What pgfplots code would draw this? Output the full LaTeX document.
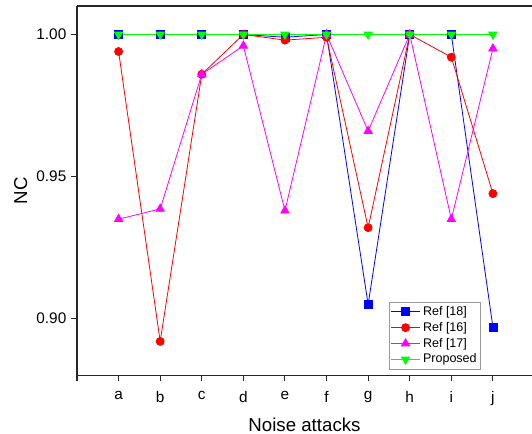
\documentclass[border=0pt]{standalone}
\usepackage{fontspec}
\setmainfont{Liberation Sans}
\usepackage{pgfplots}
\pgfplotsset{compat=1.18}
\definecolor{refblue}{RGB}{0,0,255}
\definecolor{refred}{RGB}{255,0,0}
\definecolor{refmag}{RGB}{255,0,255}
\definecolor{refgreen}{RGB}{0,255,0}

\begin{document}
\begin{tikzpicture}
\begin{axis}[
    scale only axis,
    width=341.25pt, height=277.1pt,
    xmin=-1, xmax=9.94,
    ymin=0.88, ymax=1.01,
    axis x line=box, axis y line=left,
    axis line style={-, line width=0.9pt, black!85},
    xtick pos=bottom, ytick pos=left,
    tick align=outside,
    major tick length=4.5pt,
    tick style={line width=0.8pt, black!85},
    xtick={-1,0,1,2,3,4,5,6,7,8,9},
    xticklabels={,a,b,c,d,e,f,g,h,i,j},
    xticklabel style={yshift=-4pt},
    ytick={0.90,0.95,1.00},
    yticklabel style={/pgf/number format/.cd, fixed, fixed zerofill, precision=2},
    /pgf/number format/assume math mode=true,
    ticklabel style={font=\fontsize{11.5}{13}\selectfont},
    xlabel={Noise attacks},
    ylabel={NC},
    xlabel style={yshift=-2.5pt},
    label style={font=\fontsize{14}{16}\selectfont},
    clip=false,
    legend style={at={(0.686,0.199)}, anchor=north west, draw=black!40,
        font=\fontsize{9.4}{11}\selectfont, row sep=-0.4pt,
        inner xsep=1pt, inner ysep=1pt},
    legend cell align=left,
    legend image code/.code={
        \draw[#1, mark repeat=2, mark phase=2] plot coordinates {(0cm,0cm) (0.38cm,0cm) (0.76cm,0cm)};
    },
    every axis plot/.append style={line width=0.6pt},
]
\addplot[refblue, mark=square*, mark size=3pt] coordinates {
    (0,1.000) (1,1.000) (2,1.000) (3,1.000) (4,0.999)
    (5,1.000) (6,0.905) (7,1.000) (8,1.000) (9,0.897)
};
\addlegendentry{Ref [18]}
\addplot[refred, mark=*, mark size=3pt] coordinates {
    (0,0.994) (1,0.892) (2,0.986) (3,1.000) (4,0.998)
    (5,0.999) (6,0.932) (7,1.000) (8,0.992) (9,0.944)
};
\addlegendentry{Ref [16]}
\addplot[refmag, mark=triangle*, mark size=3.6pt] coordinates {
    (0,0.935) (1,0.9386) (2,0.986) (3,0.996) (4,0.938)
    (5,1.000) (6,0.966) (7,1.000) (8,0.935) (9,0.995)
};
\addlegendentry{Ref [17]}
\addplot[refgreen, mark=triangle*, mark size=3.6pt, mark options={rotate=180}] coordinates {
    (0,1.000) (1,1.000) (2,1.000) (3,1.000) (4,1.000)
    (5,1.000) (6,1.000) (7,1.000) (8,1.000) (9,1.000)
};
\addlegendentry{Proposed}
\end{axis}
\pgfresetboundingbox
\path (-57.75pt,-43.875pt) rectangle (341.25pt,281.625pt);
\end{tikzpicture}
\end{document}
